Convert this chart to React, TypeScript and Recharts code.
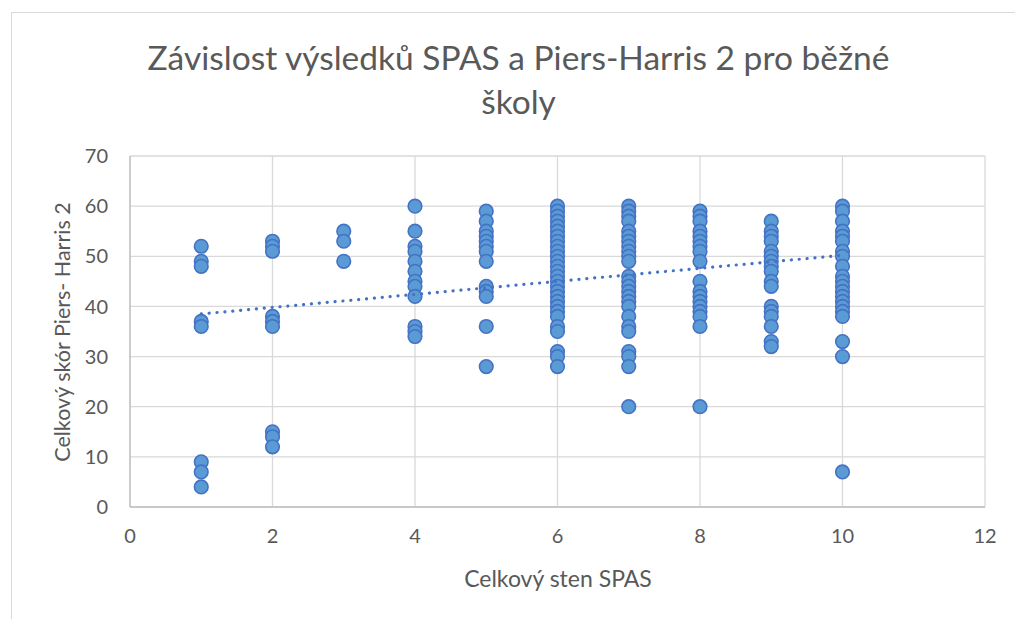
import React from "react";
import { ScatterChart, Scatter, XAxis, YAxis, CartesianGrid } from "recharts";

// skóre Piers-Harris 2 podle stenu SPAS
const sten1 = [52, 49, 48, 37, 36, 9, 7, 4];
const sten2 = [53, 52, 51, 38, 37, 36, 15, 14, 12];
const sten3 = [55, 53, 49];
const sten4 = [60, 55, 52, 51, 49, 47, 45, 44, 42, 36, 35, 34];
const sten5 = [59, 57, 55, 54, 53, 52, 51, 49, 44, 43, 42, 36, 28];
const sten6 = [60, 59, 58, 57, 56, 55, 54, 53, 52, 51, 50, 49, 48, 47, 46, 45, 44, 43, 42, 41, 40, 39, 38, 36, 35, 31, 30, 28];
const sten7 = [60, 59, 58, 57, 55, 54, 53, 52, 51, 50, 49, 46, 45, 44, 43, 42, 41, 40, 38, 36, 35, 31, 30, 28, 20];
const sten8 = [59, 58, 57, 55, 54, 53, 52, 51, 49, 45, 43, 42, 41, 40, 39, 38, 36, 20];
const sten9 = [57, 55, 54, 53, 51, 50, 49, 48, 47, 45, 44, 40, 39, 38, 36, 33, 32];
const sten10 = [60, 59, 57, 55, 54, 53, 51, 50, 48, 46, 45, 44, 43, 42, 41, 40, 39, 38, 33, 30, 7];

const stenValues = [1, 2, 3, 4, 5, 6, 7, 8, 9, 10];
const scoresBySten = [sten1, sten2, sten3, sten4, sten5, sten6, sten7, sten8, sten9, sten10];

// lineární spojnice trendu
const trendX = [1, 10];
const trendY = [38.5, 50.2];

const xTicks = [0, 2, 4, 6, 8, 10, 12];
const yTicks = [0, 10, 20, 30, 40, 50, 60, 70];

const points = scoresBySten.flatMap((scores, i) =>
  scores.map((s) => ({ x: stenValues[i], y: s }))
);
const trend = trendX.map((x, i) => ({ x, y: trendY[i] }));

const FONT = "Lato, 'Open Sans', sans-serif";
const GRAY = "#595959";

const Dot = (props: any) => {
  const { cx, cy } = props;
  if (cx == null || cy == null) return <g />;
  return <circle cx={cx} cy={cy} r={6.8} fill="#5b9bd5" stroke="#4472c4" strokeWidth={1.6} />;
};

export default function App() {
  return (
    <div
      style={{
        position: "absolute",
        left: 0,
        top: 0,
        width: 1015,
        height: 619,
        background: "#fff",
        overflow: "hidden",
        fontFamily: FONT,
      }}
    >
      <div
        style={{
          position: "absolute",
          left: 11,
          top: 12,
          width: 1020,
          height: 620,
          borderLeft: "1.5px solid #d9d9d9",
          borderTop: "1.5px solid #d9d9d9",
        }}
      />
      <div
        style={{
          position: "absolute",
          left: 0,
          width: 1037,
          top: 35,
          textAlign: "center",
          fontSize: 33.5,
          lineHeight: "44px",
          color: GRAY,
        }}
      >
        Závislost výsledků SPAS a Piers-Harris 2 pro běžné
        <br />
        školy
      </div>
      <div
        style={{
          position: "absolute",
          left: 62,
          top: 332,
          transform: "translate(-50%, -50%) rotate(-90deg)",
          whiteSpace: "nowrap",
          fontSize: 21.5,
          color: GRAY,
        }}
      >
        Celkový skór Piers- Harris 2
      </div>
      <div
        style={{
          position: "absolute",
          left: 558,
          top: 578,
          transform: "translate(-50%, -50%)",
          whiteSpace: "nowrap",
          fontSize: 23,
          color: GRAY,
        }}
      >
        Celkový sten SPAS
      </div>
      <ScatterChart
        width={1015}
        height={619}
        margin={{ top: 156, right: 30, bottom: 72, left: 70 }}
        style={{ position: "absolute", left: 0, top: 0 }}
      >
        <CartesianGrid stroke="#d9d9d9" strokeWidth={1.3} />
        <XAxis
          type="number"
          dataKey="x"
          domain={[0, 12]}
          ticks={xTicks}
          height={40}
          tickLine={false}
          tickSize={0}
          tickMargin={22}
          axisLine={{ stroke: "#bfbfbf", strokeWidth: 1.3 }}
          tick={{ fill: GRAY, fontSize: 20, fontFamily: FONT }}
        />
        <YAxis
          type="number"
          dataKey="y"
          domain={[0, 70]}
          ticks={yTicks}
          width={60}
          tickLine={false}
          tickSize={0}
          tickMargin={22}
          axisLine={{ stroke: "#bfbfbf", strokeWidth: 1.3 }}
          tick={{ fill: GRAY, fontSize: 20, fontFamily: FONT }}
        />
        <Scatter data={points} shape={<Dot />} isAnimationActive={false} />
        <Scatter
          data={trend}
          shape={() => <g />}
          line={{ stroke: "#4472c4", strokeWidth: 3.2, strokeDasharray: "0.1 7.8", strokeLinecap: "round" }}
          isAnimationActive={false}
        />
      </ScatterChart>
    </div>
  );
}
